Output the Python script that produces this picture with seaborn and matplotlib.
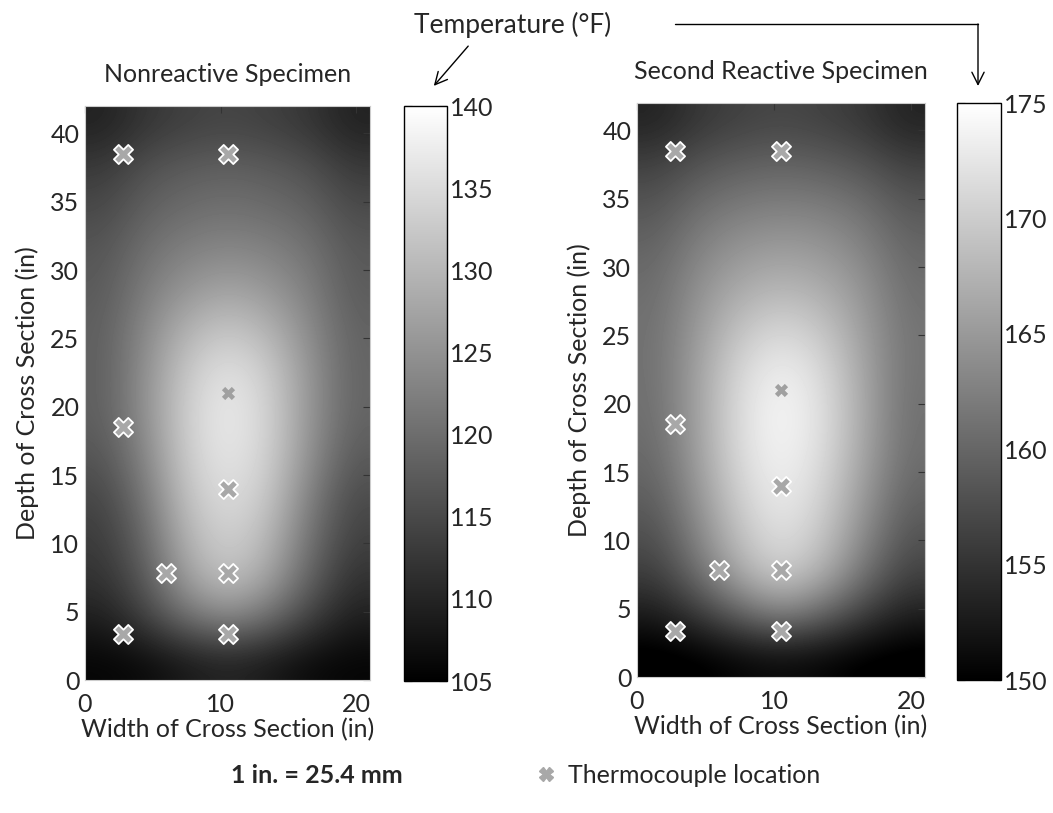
"""
Cross-section temperature fields with thermocouple locations.
"""

import numpy as np
import pandas as pd
import matplotlib.pyplot as plt
import seaborn as sns
from matplotlib.lines import Line2D

sns.set_style("white")
plt.rcParams["font.family"] = ["Lato", "DejaVu Sans"]

# Grid cell centres (in) of the estimated temperature fields
width_in = [1.5, 4.5, 7.5, 10.5, 13.5, 16.5, 19.5]
depth_in = [1.5, 4.5, 7.5, 10.5, 13.5, 16.5, 19.5,
            22.5, 25.5, 28.5, 31.5, 34.5, 37.5, 40.5]

# Temperatures (F), rows from bottom (depth 1.5) to top (depth 40.5)
nonreactive_temp = [
    [105.7, 106.4, 108.4, 109.8, 108.4, 106.4, 105.7],
    [109.1, 113.9, 120.1, 123.5, 120.1, 113.9, 109.1],
    [111.9, 117.4, 127.0, 131.8, 127.6, 118.7, 111.9],
    [113.2, 119.4, 129.7, 133.8, 130.4, 120.8, 113.9],
    [114.6, 121.5, 131.8, 135.5, 132.5, 122.8, 115.3],
    [116.7, 123.5, 133.1, 136.8, 133.8, 124.9, 117.4],
    [118.0, 124.9, 133.5, 137.4, 134.1, 125.6, 118.7],
    [118.0, 124.9, 132.5, 136.3, 133.1, 125.6, 118.7],
    [118.0, 123.9, 129.7, 132.5, 130.0, 124.2, 118.5],
    [117.4, 122.2, 125.6, 127.6, 125.9, 122.6, 117.6],
    [116.7, 120.4, 122.6, 123.5, 122.8, 120.8, 117.1],
    [115.0, 118.3, 119.8, 120.5, 119.8, 118.6, 115.3],
    [113.0, 116.2, 117.6, 118.2, 117.6, 116.2, 113.0],
    [109.6, 112.4, 113.8, 114.5, 113.8, 112.4, 109.6],
]

reactive_temp = [
    [149.0, 149.5, 150.5, 151.0, 150.5, 149.5, 149.0],
    [152.5, 155.4, 159.3, 162.5, 159.8, 155.9, 152.9],
    [155.9, 160.8, 166.7, 170.1, 167.2, 161.3, 156.4],
    [157.8, 163.2, 169.1, 172.1, 169.6, 163.7, 158.3],
    [159.3, 164.7, 170.6, 173.3, 170.8, 165.2, 159.8],
    [160.3, 165.7, 171.6, 174.0, 171.8, 166.2, 160.8],
    [160.8, 165.9, 171.8, 174.3, 172.1, 166.5, 161.0],
    [161.0, 165.9, 171.1, 173.5, 171.4, 166.2, 161.3],
    [161.0, 165.2, 169.1, 171.1, 169.4, 165.5, 161.3],
    [160.6, 164.2, 166.7, 167.8, 166.9, 164.5, 160.8],
    [159.8, 162.7, 164.5, 165.2, 164.7, 162.9, 160.0],
    [158.3, 160.8, 162.0, 162.5, 162.2, 161.0, 158.6],
    [156.4, 158.3, 159.3, 159.8, 159.3, 158.3, 156.4],
    [153.4, 155.4, 156.4, 156.9, 156.4, 155.4, 153.4],
]

# Thermocouple locations (in)
tc_x = [2.8, 10.5, 2.8, 10.5, 6.0, 10.5, 2.8, 10.5]
tc_y = [38.5, 38.5, 18.5, 14.0, 7.8, 7.8, 3.4, 3.4]
tc_small_x = [10.5]
tc_small_y = [21.0]

titles = ["Nonreactive Specimen", "Second Reactive Specimen"]
fields = [nonreactive_temp, reactive_temp]
limits = [(105, 140), (150, 175)]
cbar_ticks = [[105, 110, 115, 120, 125, 130, 135, 140],
              [150, 155, 160, 165, 170, 175]]

W, H = 1053, 813
fig = plt.figure(figsize=(W / 100, H / 100), dpi=100)

# pixel boxes: (left, top, right, bottom)
heat_boxes = [(85, 106, 370, 680), (637, 103, 925, 677)]
cbar_boxes = [(404, 106, 447, 681), (957, 103, 1001, 680)]


def to_rect(box):
    l, t, r, b = box
    return [l / W, 1 - b / H, (r - l) / W, (b - t) / H]


tc = pd.DataFrame({"x": tc_x, "y": tc_y})
tc_small = pd.DataFrame({"x": tc_small_x, "y": tc_small_y})

for i in range(2):
    ax = fig.add_axes(to_rect(heat_boxes[i]))
    cax = fig.add_axes(to_rect(cbar_boxes[i]))

    im = ax.imshow(
        np.array(fields[i]),
        origin="lower",
        extent=(0, 21, 0, 42),
        cmap="gray",
        vmin=limits[i][0],
        vmax=limits[i][1],
        interpolation="bicubic",
        aspect="auto",
    )

    sns.scatterplot(data=tc, x="x", y="y", marker="X", s=190,
                    color="#a8a8a8", edgecolor="white", linewidth=1.3,
                    ax=ax, legend=False, zorder=3)
    sns.scatterplot(data=tc_small, x="x", y="y", marker="X", s=90,
                    color="#a0a0a0", edgecolor="#a0a0a0", linewidth=0,
                    ax=ax, legend=False, zorder=3)

    ax.set_xlim(0, 21)
    ax.set_ylim(0, 42)
    ax.set_xticks([0, 10, 20])
    ax.set_yticks(range(0, 45, 5))
    ax.tick_params(direction="in", length=5, top=True, right=True,
                   labelsize=18, color="#333333", pad=4)
    ax.tick_params(axis="x", pad=9)
    for sp in ax.spines.values():
        sp.set_color("#cccccc")
        sp.set_linewidth(0.8)

    ax.set_title(titles[i], fontsize=18, pad=17)
    ax.set_xlabel("Width of Cross Section (in)", fontsize=18, labelpad=2)
    ax.set_ylabel("Depth of Cross Section (in)", fontsize=18, labelpad=8)

    cb = fig.colorbar(im, cax=cax, ticks=cbar_ticks[i])
    cb.outline.set_edgecolor("black")
    cb.outline.set_linewidth(1)
    cax.tick_params(direction="in", length=6, left=True, right=True,
                    labelsize=18, color="black", pad=2)

# Shared colour bar label with arrows
fig.text(513 / W, 1 - 25 / H, "Temperature (°F)", ha="center",
         va="center", fontsize=19)
fig.add_artist(plt.Annotation(
    "", xy=(432 / W, 1 - 88 / H), xytext=(470 / W, 1 - 44 / H),
    xycoords="figure fraction", textcoords="figure fraction",
    arrowprops=dict(arrowstyle="->", lw=1, color="black",
                    mutation_scale=22)))
fig.add_artist(Line2D([675 / W, 978 / W], [1 - 24 / H, 1 - 24 / H],
                      color="black", lw=1, transform=fig.transFigure))
fig.add_artist(plt.Annotation(
    "", xy=(978 / W, 1 - 86 / H), xytext=(978 / W, 1 - 24 / H),
    xycoords="figure fraction", textcoords="figure fraction",
    arrowprops=dict(arrowstyle="->", lw=1, color="black",
                    mutation_scale=22, shrinkA=0, shrinkB=0)))

# Footer notes
fig.text(317 / W, 1 - 775 / H, "1 in. = 25.4 mm", ha="center",
         va="center", fontsize=18, fontweight="bold")
fig.add_artist(Line2D([546 / W], [1 - 774 / H], marker="X", markersize=10,
                      color="#a8a8a8", lw=0, transform=fig.transFigure))
fig.text(568 / W, 1 - 775 / H, "Thermocouple location", ha="left",
         va="center", fontsize=18)

fig.savefig("out.png", dpi=100)
plt.close(fig)
